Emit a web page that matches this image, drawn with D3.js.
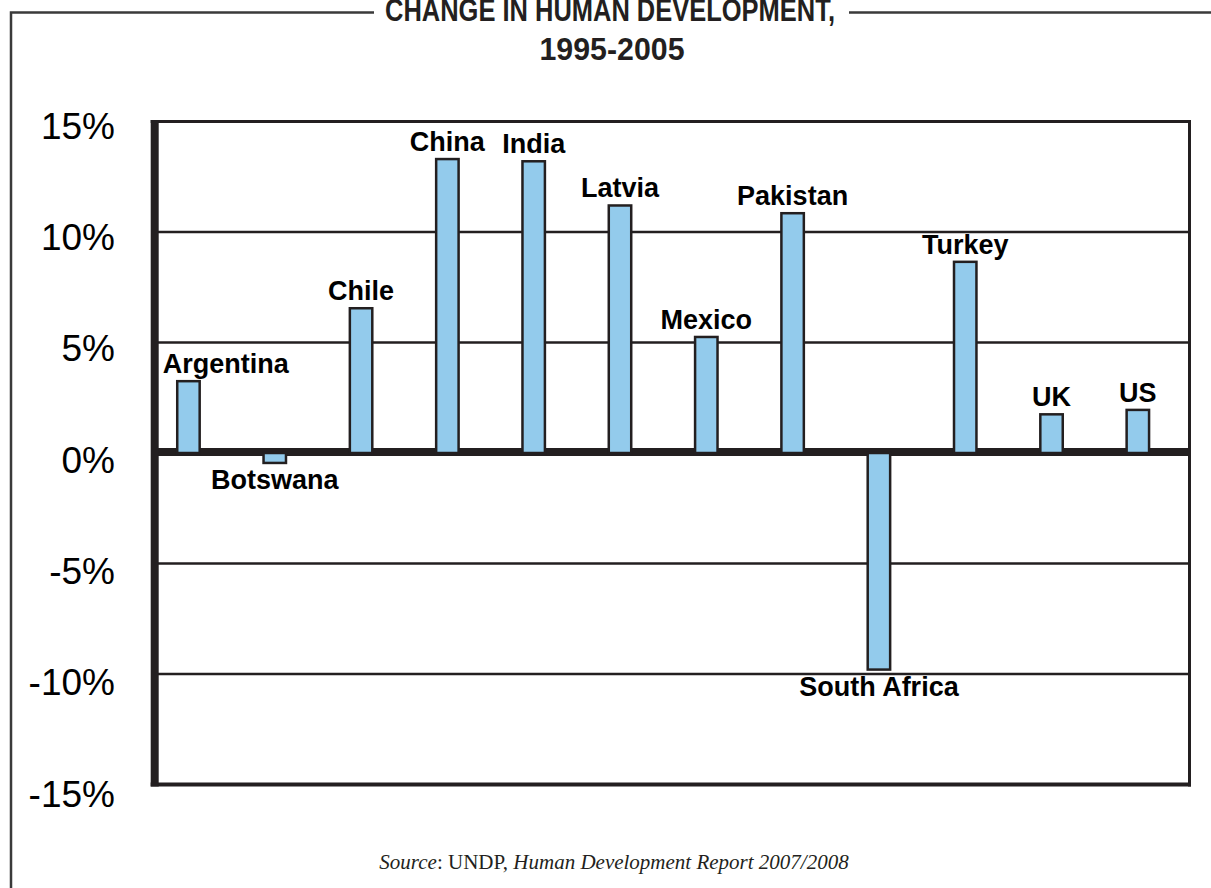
<!DOCTYPE html>
<html>
<head>
<meta charset="utf-8">
<script src="https://cdn.jsdelivr.net/npm/d3@7"></script>
<style>
  html, body { margin: 0; padding: 0; background: #fff; }
  svg { display: block; }
</style>
</head>
<body>
<div id="chart"></div>
<script>
// data
var countries = ["Argentina", "Botswana", "Chile", "China", "India", "Latvia",
                 "Mexico", "Pakistan", "South Africa", "Turkey", "UK", "US"];
var changes = [3.25, -0.45, 6.55, 13.3, 13.2, 11.2, 5.25, 10.85, -9.8, 8.65, 1.75, 1.95];
var yTicks = [15, 10, 5, 0, -5, -10, -15];
var titleLines = ["CHANGE IN HUMAN DEVELOPMENT,", "1995-2005"];

var cfg = {
    w: 1211,
    h: 888,
    left: 154.7,
    right: 1189.5,
    top: 121.5,
    bottom: 784.5
};
var ink = "#231f20";

var svg = d3.select("#chart")
    .append("svg")
    .attr("width", cfg.w)
    .attr("height", cfg.h);

var y = d3.scaleLinear()
    .domain([15, -15])
    .range([cfg.top, cfg.bottom]);

// tick labels sit a little lower than the grid and drift downward
var yLabel = d3.scaleLinear()
    .domain([15, -15])
    .range([138.5, 806.5]);

var x = d3.scaleBand()
    .domain(countries)
    .range([145.3, 1181])
    .paddingInner(0.74)
    .paddingOuter(0.37);

var data = countries.map(function(c, i) { return {name: c, value: changes[i]}; });

// grid lines
svg.append("g")
    .selectAll("line")
    .data(yTicks.filter(function(d) { return d != 0 && Math.abs(d) != 15; }))
    .enter()
    .append("line")
    .attr("x1", cfg.left)
    .attr("x2", cfg.right)
    .attr("y1", function(d) { return y(d); })
    .attr("y2", function(d) { return y(d); })
    .attr("stroke", ink)
    .attr("stroke-width", 2.5);

// plot frame
svg.append("line")
    .attr("x1", cfg.left - 4).attr("x2", cfg.right + 1.5)
    .attr("y1", y(15)).attr("y2", y(15))
    .attr("stroke", ink).attr("stroke-width", 3);
svg.append("line")
    .attr("x1", cfg.right).attr("x2", cfg.right)
    .attr("y1", y(15) - 1.5).attr("y2", y(-15) + 2)
    .attr("stroke", ink).attr("stroke-width", 3);
svg.append("line")
    .attr("x1", cfg.left - 4).attr("x2", cfg.right + 1.5)
    .attr("y1", y(-15)).attr("y2", y(-15))
    .attr("stroke", ink).attr("stroke-width", 4);

// zero line
svg.append("line")
    .attr("x1", cfg.left)
    .attr("x2", cfg.right + 1.5)
    .attr("y1", y(0) - 1)
    .attr("y2", y(0) - 1)
    .attr("stroke", ink)
    .attr("stroke-width", 8);

// left axis
svg.append("line")
    .attr("x1", cfg.left).attr("x2", cfg.left)
    .attr("y1", y(15) - 1.5).attr("y2", y(-15) + 2)
    .attr("stroke", ink).attr("stroke-width", 8);

// bars
svg.append("g")
    .selectAll("rect")
    .data(data)
    .enter()
    .append("rect")
    .attr("x", function(d) { return x(d.name); })
    .attr("width", x.bandwidth())
    .attr("y", function(d) { return y(Math.max(0, d.value)); })
    .attr("height", function(d) { return Math.abs(y(d.value) - y(0)); })
    .attr("fill", "#93cbec")
    .attr("stroke", ink)
    .attr("stroke-width", 2.5);

// bar labels
var labels = svg.append("g")
    .selectAll("text")
    .data(data)
    .enter()
    .append("text")
    .attr("y", function(d) {
        return d.value >= 0 ? y(d.value) - 8 : y(d.value) + 26;
    })
    .style("font-family", "'Liberation Sans', Arial, sans-serif")
    .style("font-weight", "bold")
    .style("font-size", "27px")
    .style("text-anchor", "middle")
    .attr("fill", "#000")
    .text(function(d) { return d.name; });

// keep labels clear of the axis
labels.attr("x", function(d) {
    var cx = x(d.name) + x.bandwidth() / 2;
    var half = this.getComputedTextLength() / 2;
    return Math.max(cx, cfg.left + 8 + half);
});

// y tick labels
svg.append("g")
    .selectAll("text")
    .data(yTicks)
    .enter()
    .append("text")
    .attr("x", 115)
    .attr("y", function(d) { return yLabel(d); })
    .style("font-family", "'Liberation Sans', Arial, sans-serif")
    .style("font-size", "37px")
    .style("text-anchor", "end")
    .attr("fill", "#000")
    .text(function(d) { return d + "%"; });

// title (the first line is clipped by the top edge, as in the original)
svg.append("text")
    .attr("x", 610)
    .attr("y", 21)
    .attr("textLength", 450)
    .attr("lengthAdjust", "spacingAndGlyphs")
    .style("font-family", "'Liberation Sans', Arial, sans-serif")
    .style("font-weight", "bold")
    .style("font-size", "32px")
    .style("text-anchor", "middle")
    .attr("fill", "#231f20")
    .text(titleLines[0]);

svg.append("text")
    .attr("x", 612)
    .attr("y", 60)
    .attr("textLength", 145)
    .attr("lengthAdjust", "spacingAndGlyphs")
    .style("font-family", "'Liberation Sans', Arial, sans-serif")
    .style("font-weight", "bold")
    .style("font-size", "32px")
    .style("text-anchor", "middle")
    .attr("fill", "#231f20")
    .text(titleLines[1]);

// outer frame, broken around the title
svg.append("path")
    .attr("d", "M11,888 L11,12.5 L374,12.5 M849,12.5 L1211,12.5")
    .attr("fill", "none")
    .attr("stroke", "#3a3a3a")
    .attr("stroke-width", 2.5);

// source
var src = svg.append("text")
    .attr("x", 614)
    .attr("y", 869)
    .style("font-family", "'Liberation Serif', 'Times New Roman', serif")
    .style("font-size", "21px")
    .style("text-anchor", "middle")
    .attr("fill", "#231f20");
src.append("tspan").style("font-style", "italic").text("Source");
src.append("tspan").text(": UNDP, ");
src.append("tspan").style("font-style", "italic").text("Human Development Report 2007/2008");
</script>
</body>
</html>
